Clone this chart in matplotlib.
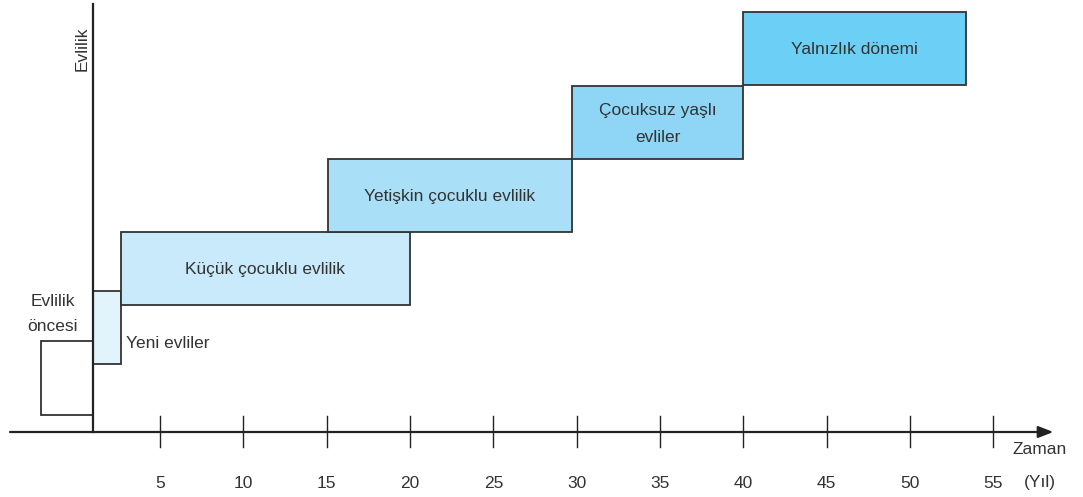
import matplotlib
matplotlib.use("Agg")
import matplotlib.pyplot as plt
from matplotlib.patches import Rectangle

plt.rcParams['font.family'] = ['Liberation Sans', 'DejaVu Sans']

# stages: start / end in years, bottom / top in row units (pixels above time axis)
stages = ['Evlilik öncesi', 'Yeni evliler', 'Küçük çocuklu evlilik',
          'Yetişkin çocuklu evlilik', 'Çocuksuz yaşlı\nevliler', 'Yalnızlık dönemi']
start_year = [-2.15, 1.0, 2.65, 15.1, 29.7, 40.0]
end_year = [1.0, 2.65, 20.0, 29.7, 40.0, 53.35]
bottom = [17, 68, 127, 200, 273, 347]
top = [91, 141, 200, 273, 346, 420]
colors = ['#ffffff', '#e1f4fc', '#c8eafa', '#aadff8', '#8fd6f6', '#6ccff5']

ticks = [5, 10, 15, 20, 25, 30, 35, 40, 45, 50, 55]

edge = '#333333'
txt = '#333333'
fs = 12.5

fig = plt.figure(figsize=(10.83, 4.97), dpi=100)
ax = fig.add_axes([0, 0, 1, 1])
ax.set_xlim(-4.6, 60.38)
ax.set_ylim(-65, 432)
ax.axis('off')

for i in range(len(stages)):
    ax.add_patch(Rectangle((start_year[i], bottom[i]), end_year[i] - start_year[i],
                           top[i] - bottom[i], facecolor=colors[i], edgecolor=edge,
                           linewidth=1.3, zorder=2))

# labels inside the boxes
for i in [2, 3, 4, 5]:
    ax.text((start_year[i] + end_year[i]) / 2, (bottom[i] + top[i]) / 2 - 1, stages[i],
            ha='center', va='center', fontsize=fs, color=txt, linespacing=2.0, zorder=3)

ax.text(2.95, 89, 'Yeni evliler', ha='left', va='center', fontsize=fs, color=txt)
ax.text(-1.45, 118, 'Evlilik\nöncesi', ha='center', va='center', fontsize=fs,
        color=txt, linespacing=1.9)

# axes
ax.annotate('', xy=(58.6, 0), xytext=(-4.0, 0),
            arrowprops=dict(arrowstyle='-|>,head_length=0.9,head_width=0.35',
                            color='#222222', lw=1.6, shrinkA=0, shrinkB=0), zorder=4)
ax.plot([1.0, 1.0], [0, 428], color='#222222', lw=1.6, zorder=4)
for t in ticks:
    ax.plot([t, t], [-15, 16], color='#222222', lw=1.0, zorder=4)
    ax.text(t, -51, str(t), ha='center', va='center', fontsize=fs, color=txt)

ax.text(57.8, -18, 'Zaman', ha='center', va='center', fontsize=fs, color=txt)
ax.text(57.8, -50, '(Yıl)', ha='center', va='center', fontsize=fs, color=txt)
ax.text(0.35, 383, 'Evlilik', ha='center', va='center', fontsize=fs, color=txt,
        rotation=90)

fig.savefig('out.png', dpi=100)
